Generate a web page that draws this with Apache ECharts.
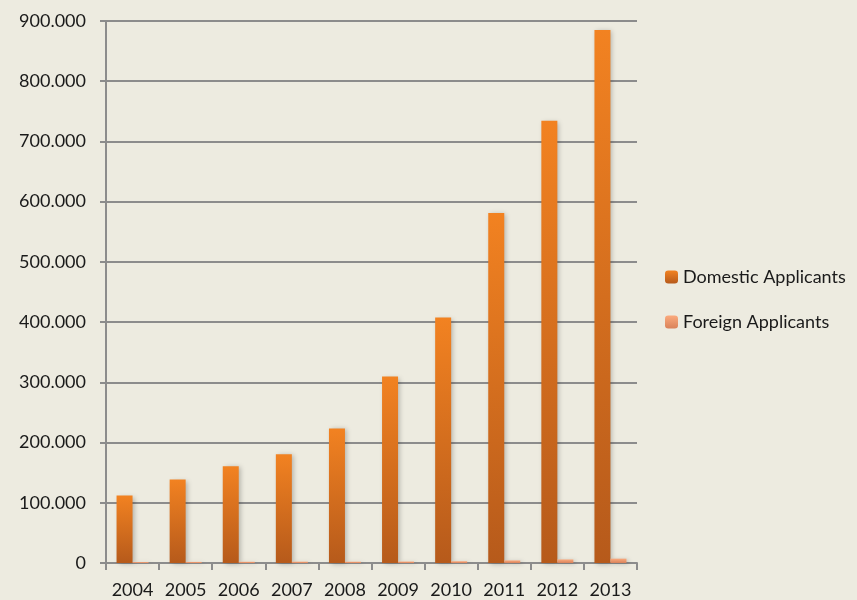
<!DOCTYPE html>
<html>
<head>
<meta charset="utf-8">
<script src="https://cdn.jsdelivr.net/npm/echarts@6/dist/echarts.min.js"></script>
<style>
  html, body { margin: 0; padding: 0; background: #edebe0; }
  #main { width: 857px; height: 600px; }
</style>
</head>
<body>
<div id="main"></div>
<script>
// data
var years = ["2004", "2005", "2006", "2007", "2008", "2009", "2010", "2011", "2012", "2013"];
var domestic = [112000, 138500, 160500, 180500, 223500, 309500, 407500, 581000, 734500, 885000];
var foreign = [1600, 1800, 2000, 2200, 2100, 2400, 2900, 4300, 5900, 7200];
var yTicks = [0, 100000, 200000, 300000, 400000, 500000, 600000, 700000, 800000, 900000];

var font = "Lato, 'Open Sans', sans-serif";

function fmt(v) {
  if (v === 0) return "0";
  return String(v).replace(/\B(?=(\d{3})+(?!\d))/g, ".");
}

var chart = echarts.init(document.getElementById("main"));
chart.setOption({
  backgroundColor: "#edebe0",
  animation: false,
  grid: { left: 106, right: 220, top: 21, bottom: 37 },
  legend: {
    orient: "vertical",
    left: 660,
    top: 263,
    itemWidth: 13,
    itemHeight: 13,
    itemGap: 27,
    textStyle: { fontFamily: font, fontSize: 18, color: "#1a1a1a" },
    data: ["Domestic Applicants", "Foreign Applicants"]
  },
  xAxis: {
    type: "category",
    data: years,
    axisLine: { lineStyle: { color: "#8c8c8c", width: 2 } },
    axisTick: { show: true, length: 7, lineStyle: { color: "#8c8c8c", width: 2 } },
    axisLabel: { interval: 0, fontFamily: font, fontSize: 18, color: "#1a1a1a", margin: 18 }
  },
  yAxis: {
    type: "value",
    min: yTicks[0],
    max: yTicks[yTicks.length - 1],
    interval: 100000,
    axisLine: { show: true, lineStyle: { color: "#8c8c8c", width: 2 } },
    axisTick: { show: true, length: 6, lineStyle: { color: "#8c8c8c", width: 2 } },
    splitLine: { lineStyle: { color: "#8c8c8c", width: 2 } },
    axisLabel: { fontFamily: font, fontSize: 18, color: "#1a1a1a", margin: 20, formatter: fmt }
  },
  series: [
    {
      name: "Domestic Applicants",
      type: "bar",
      data: domestic,
      barWidth: 16,
      barGap: "0%",
      itemStyle: {
        color: new echarts.graphic.LinearGradient(0, 0, 0, 1, [
          { offset: 0, color: "#f28221" },
          { offset: 1, color: "#b65a1b" }
        ]),
        shadowColor: "rgba(0,0,0,0.25)",
        shadowBlur: 5,
        shadowOffsetX: 2,
        shadowOffsetY: 1
      }
    },
    {
      name: "Foreign Applicants",
      type: "bar",
      data: foreign,
      barWidth: 16,
      itemStyle: {
        color: new echarts.graphic.LinearGradient(0, 0, 0, 1, [
          { offset: 0, color: "#fbaa7d" },
          { offset: 1, color: "#d9825a" }
        ]),
        shadowColor: "rgba(0,0,0,0.2)",
        shadowBlur: 4,
        shadowOffsetX: 2,
        shadowOffsetY: 1
      }
    }
  ]
});
</script>
</body>
</html>
